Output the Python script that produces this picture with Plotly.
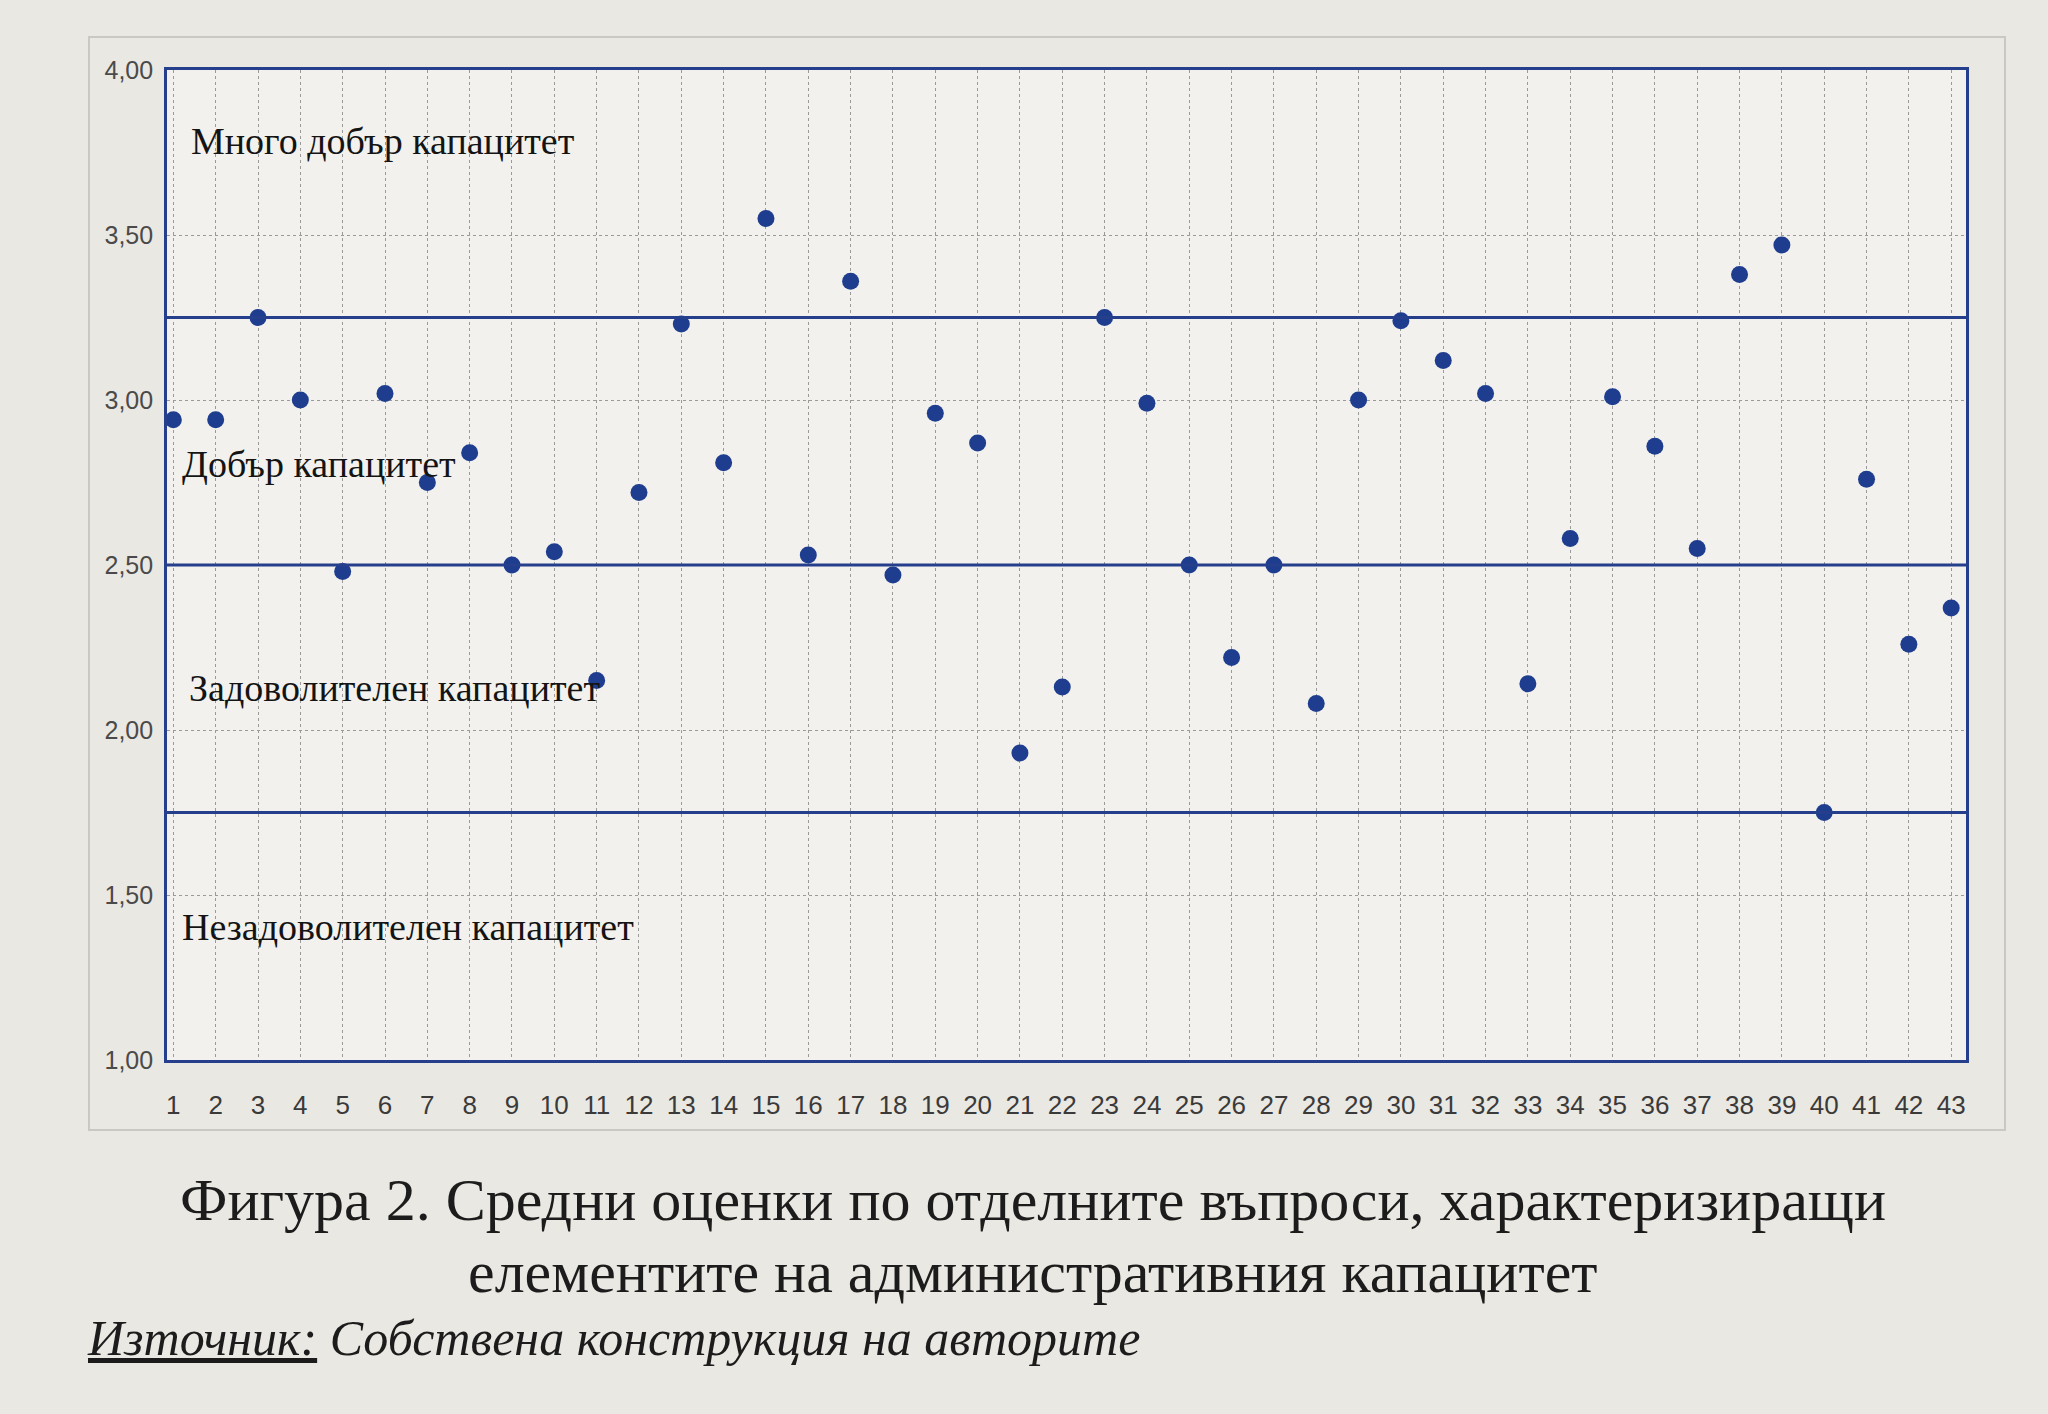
import plotly.graph_objects as go

# ---- data ----
questions = list(range(1, 44))
scores = [2.94, 2.94, 3.25, 3.00, 2.48, 3.02, 2.75, 2.84, 2.50, 2.54,
          2.15, 2.72, 3.23, 2.81, 3.55, 2.53, 3.36, 2.47, 2.96, 2.87,
          1.93, 2.13, 3.25, 2.99, 2.50, 2.22, 2.50, 2.08, 3.00, 3.24,
          3.12, 3.02, 2.14, 2.58, 3.01, 2.86, 2.55, 3.38, 3.47, 1.75,
          2.76, 2.26, 2.37]
thresholds = [3.25, 2.50, 1.75]
zone_labels = ["Много добър капацитет", "Добър капацитет",
               "Задоволителен капацитет", "Незадоволителен капацитет"]
y_ticks = [1.0, 1.5, 2.0, 2.5, 3.0, 3.5, 4.0]
y_tick_text = ["1,00", "1,50", "2,00", "2,50", "3,00", "3,50", "4,00"]
caption = ["Фигура 2. Средни оценки по отделните въпроси, характеризиращи",
           "елементите на административния капацитет"]
source_label = "Източник:"
source_text = " Собствена конструкция на авторите"

# ---- layout geometry (pixels) ----
W, H = 2048, 1414
L, R, T, B = 167, 1966, 70, 1060

def px(x):
    return (x - L) / (R - L)

def py(y):
    return (B - y) / (B - T)

BLUE = "#263f8c"
DOT = "#1e3d8f"
PAPER = "#eae8e2"

fig = go.Figure()
fig.add_trace(go.Scatter(
    x=questions, y=scores, mode="markers",
    marker=dict(color=DOT, size=17, line=dict(width=0)),
    showlegend=False, hoverinfo="x+y"))

for t in thresholds:
    fig.add_hline(y=t, line=dict(color=BLUE, width=3), layer="above")

# outer chart frame
fig.add_shape(type="rect", xref="paper", yref="paper",
              x0=px(89), x1=px(2005), y0=py(1130), y1=py(37),
              line=dict(color="#c9c8c3", width=2), fillcolor="rgba(0,0,0,0)",
              layer="below")

label_pos = [(189, 141), (180, 464), (187, 688), (180, 927)]
for txt, (lx, ly) in zip(zone_labels, label_pos):
    fig.add_annotation(text=txt, xref="paper", yref="paper",
                       x=px(lx), y=py(ly), xanchor="left", yanchor="middle",
                       showarrow=False,
                       font=dict(family="Liberation Serif", size=38, color="#141414"))

fig.add_annotation(text=caption[0], xref="paper", yref="paper",
                   x=px(1033), y=py(1200), xanchor="center", yanchor="middle",
                   showarrow=False,
                   font=dict(family="Liberation Serif", size=60, color="#1c1c1c"))
fig.add_annotation(text=caption[1], xref="paper", yref="paper",
                   x=px(1033), y=py(1272), xanchor="center", yanchor="middle",
                   showarrow=False,
                   font=dict(family="Liberation Serif", size=60, color="#1c1c1c"))
fig.add_annotation(text="<i><u>" + source_label + "</u>" + source_text + "</i>",
                   xref="paper", yref="paper",
                   x=px(85), y=py(1338), xanchor="left", yanchor="middle",
                   showarrow=False,
                   font=dict(family="Liberation Serif", size=50, color="#1c1c1c"))

fig.update_layout(
    width=W, height=H,
    margin=dict(l=L, r=W - R, t=T, b=H - B, autoexpand=False),
    paper_bgcolor=PAPER,
    plot_bgcolor="#f2f1ed",
    xaxis=dict(range=[0.85, 43.35], tickmode="array", tickvals=questions,
               ticktext=[str(q) for q in questions],
               showgrid=True, gridcolor="#9a9a9a", griddash="dot", gridwidth=1.4,
               showline=True, mirror=True, linecolor=BLUE, linewidth=2.6,
               zeroline=False, ticks="", ticklabelstandoff=20,
               tickfont=dict(family="Liberation Sans", size=26, color="#3a3a3a")),
    yaxis=dict(range=[1, 4], tickmode="array", tickvals=y_ticks, ticktext=y_tick_text,
               showgrid=True, gridcolor="#9a9a9a", griddash="dot", gridwidth=1.4,
               showline=True, mirror=True, linecolor=BLUE, linewidth=2.6,
               zeroline=False, ticks="", ticklabelstandoff=6,
               tickfont=dict(family="Liberation Sans", size=25, color="#4a4a4a")),
)

fig.write_html("out.html",
               config={"displayModeBar": False},
               post_script="document.body.style.margin='0';"
                           "document.documentElement.style.background='" + PAPER + "';"
                           "document.body.style.background='" + PAPER + "';")
